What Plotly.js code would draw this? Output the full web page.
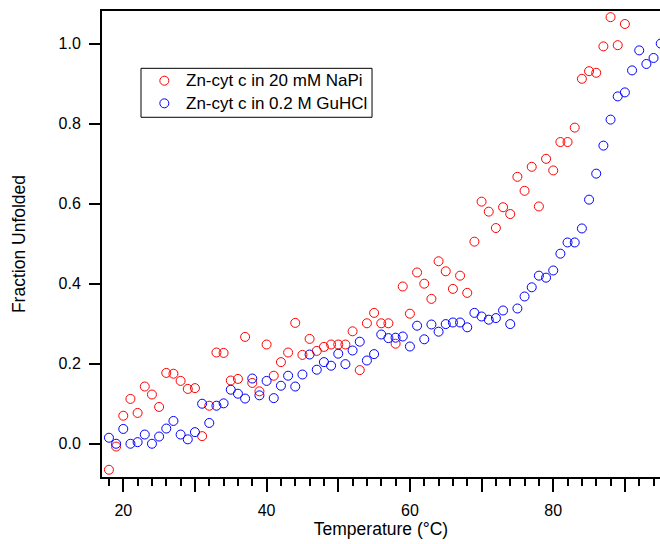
<!DOCTYPE html>
<html>
<head>
<meta charset="utf-8">
<script src="https://cdn.plot.ly/plotly-3.0.1.min.js"></script>
<style>html,body{margin:0;padding:0;background:#fff;}#chart{width:660px;height:544px;}</style>
</head>
<body>
<div id="chart"></div>
<script>
const tempNaPi = [18,19,20,21,22,23,24,25,26,27,28,29,30,31,32,33,34,35,36,37,38,39,40,41,42,43,44,45,46,47,48,49,50,51,52,53,54,55,56,57,58,59,60,61,62,63,64,65,66,67,68,69,70,71,72,73,74,75,76,77,78,79,80,81,82,83,84,85,86,87,88,89,90];
const fracNaPi = [-0.065,-0.007,0.07,0.112,0.077,0.143,0.123,0.092,0.177,0.175,0.157,0.137,0.139,0.019,0.095,0.228,0.227,0.158,0.162,0.267,0.152,0.131,0.248,0.17,0.204,0.228,0.302,0.222,0.262,0.232,0.242,0.248,0.248,0.248,0.281,0.184,0.301,0.327,0.301,0.301,0.25,0.393,0.325,0.428,0.4,0.362,0.456,0.431,0.387,0.42,0.377,0.505,0.605,0.58,0.539,0.591,0.574,0.667,0.632,0.692,0.593,0.712,0.683,0.754,0.754,0.79,0.912,0.931,0.927,0.993,1.066,0.996,1.049];
const tempGuHCl = [18,19,20,21,22,23,24,25,26,27,28,29,30,31,32,33,34,35,36,37,38,39,40,41,42,43,44,45,46,47,48,49,50,51,52,53,54,55,56,57,58,59,60,61,62,63,64,65,66,67,68,69,70,71,72,73,74,75,76,77,78,79,80,81,82,83,84,85,86,87,88,89,90,91,92,93,94,95];
const fracGuHCl = [0.015,0.0,0.037,0.0,0.004,0.023,0.0,0.018,0.038,0.057,0.023,0.011,0.029,0.1,0.052,0.095,0.101,0.135,0.125,0.113,0.163,0.121,0.157,0.114,0.145,0.17,0.143,0.173,0.223,0.185,0.204,0.195,0.225,0.199,0.233,0.255,0.208,0.224,0.273,0.264,0.265,0.268,0.243,0.295,0.261,0.298,0.28,0.299,0.303,0.303,0.291,0.327,0.318,0.31,0.314,0.333,0.299,0.338,0.368,0.391,0.42,0.415,0.433,0.475,0.503,0.503,0.538,0.61,0.675,0.745,0.81,0.868,0.878,0.933,0.983,0.949,0.964,1.0];
const seriesNames = ["Zn-cyt c in 20 mM NaPi", "Zn-cyt c in 0.2 M GuHCl"];
const seriesColors = ["#ff0000", "#0000ff"];
const xTickVals = [20,30,40,50,60,70,80,90];
const xTickText = ["20","","40","","60","","80",""];
const yTickVals = [0,0.2,0.4,0.6,0.8,1.0];

const FONT = "Liberation Sans, Arial, sans-serif";
const traces = [
  {x: tempNaPi, y: fracNaPi, name: seriesNames[0], type: 'scatter', mode: 'markers',
   marker: {symbol: 'circle-open', size: 9, color: seriesColors[0], line: {width: 1, color: seriesColors[0]}}},
  {x: tempGuHCl, y: fracGuHCl, name: seriesNames[1], type: 'scatter', mode: 'markers',
   marker: {symbol: 'circle-open', size: 9, color: seriesColors[1], line: {width: 1, color: seriesColors[1]}}}
];

// legend box drawn in paper coordinates
const legendRows = [0.8504, 0.8019];
const shapes = [
  {type: 'rect', xref: 'paper', yref: 'paper', x0: 0.0699, x1: 0.4839, y0: 0.7719, y1: 0.8770,
   line: {color: '#000', width: 1}, fillcolor: 'rgba(0,0,0,0)'}
];
const annotations = [];
seriesNames.forEach((nm, i) => {
  shapes.push({type: 'circle', xref: 'paper', yref: 'paper', xsizemode: 'pixel', ysizemode: 'pixel',
    xanchor: 0.1117, yanchor: legendRows[i], x0: -4.5, x1: 4.5, y0: -4.5, y1: 4.5,
    line: {color: seriesColors[i], width: 1}, fillcolor: 'rgba(0,0,0,0)'});
  annotations.push({xref: 'paper', yref: 'paper', x: 0.1487, y: legendRows[i], xanchor: 'left', yanchor: 'middle',
    text: nm, showarrow: false, borderpad: 0, font: {family: FONT, size: 17, color: '#000'}});
});

const layout = {
  width: 660, height: 544,
  margin: {l: 102, r: 0, t: 11, b: 67, pad: 0},
  paper_bgcolor: '#fff', plot_bgcolor: '#fff',
  font: {family: FONT, size: 16, color: '#000'},
  showlegend: false,
  shapes: shapes,
  annotations: annotations,
  xaxis: {range: [17.03, 94.9], showgrid: false, zeroline: false,
    showline: true, linecolor: '#000', linewidth: 2, mirror: true,
    tickmode: 'array', tickvals: xTickVals, ticktext: xTickText,
    ticks: 'outside', ticklen: 13, tickwidth: 2, tickcolor: '#000', ticklabelstandoff: 5,
    tickfont: {family: FONT, size: 16, color: '#000'},
    minor: {dtick: 2, tick0: 0, ticks: 'outside', ticklen: 7, tickwidth: 2, tickcolor: '#000', showgrid: false},
    title: {text: 'Temperature (°C)', font: {family: FONT, size: 17.5, color: '#000'}, standoff: 5}},
  yaxis: {range: [-0.0831, 1.0814], showgrid: false, zeroline: false,
    showline: true, linecolor: '#000', linewidth: 2, mirror: true,
    tickmode: 'array', tickvals: yTickVals, tickformat: '.1f',
    ticks: 'outside', ticklen: 11, tickwidth: 2, tickcolor: '#000', ticklabelstandoff: 5,
    tickfont: {family: FONT, size: 16, color: '#000'},
    title: {text: 'Fraction Unfolded', font: {family: FONT, size: 17.5, color: '#000'}, standoff: 28}}
};
Plotly.newPlot('chart', traces, layout, {displayModeBar: false, staticPlot: true});
</script>
</body>
</html>
